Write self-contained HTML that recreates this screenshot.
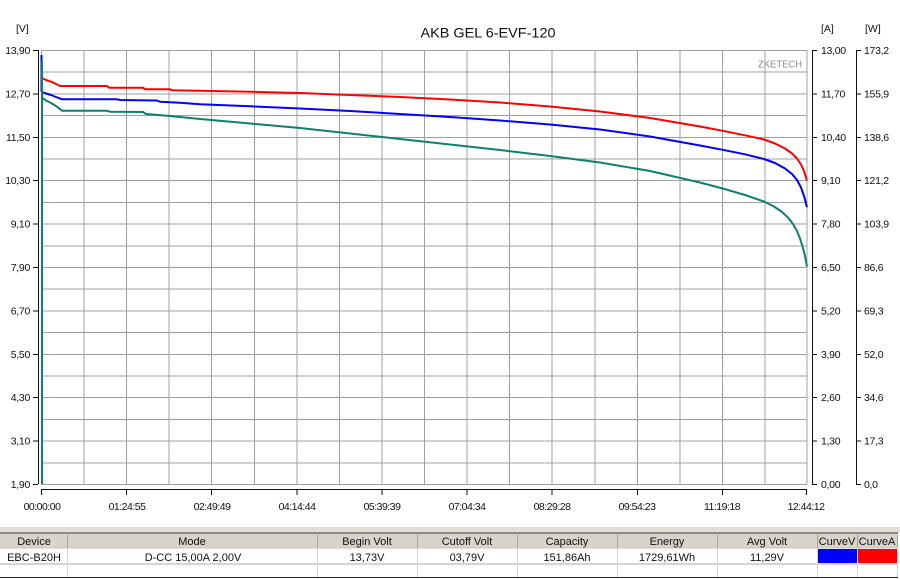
<!DOCTYPE html>
<html><head><meta charset="utf-8"><style>
html,body{margin:0;padding:0;background:#fff;}
svg{display:block;font-family:"Liberation Sans",Arial,sans-serif;}
</style></head><body>
<svg width="900" height="579" viewBox="0 0 900 579" xmlns="http://www.w3.org/2000/svg">
<rect width="900" height="579" fill="#fff"/>
<!-- title -->
<text x="488" y="37.5" font-size="14" text-anchor="middle" textLength="135" lengthAdjust="spacingAndGlyphs" fill="#111">AKB GEL  6-EVF-120</text>
<text x="16" y="32" font-size="10.5" fill="#111">[V]</text>
<text x="821" y="32" font-size="10.5" fill="#111">[A]</text>
<text x="865" y="32" font-size="10.5" fill="#111">[W]</text>

<!-- grid -->
<g stroke="#a0a0a0" stroke-width="1" shape-rendering="crispEdges">
<line x1="41" y1="50.5" x2="807" y2="50.5"/>
<line x1="41" y1="72.2" x2="807" y2="72.2"/>
<line x1="41" y1="93.9" x2="807" y2="93.9"/>
<line x1="41" y1="115.6" x2="807" y2="115.6"/>
<line x1="41" y1="137.3" x2="807" y2="137.3"/>
<line x1="41" y1="159" x2="807" y2="159"/>
<line x1="41" y1="180.7" x2="807" y2="180.7"/>
<line x1="41" y1="202.4" x2="807" y2="202.4"/>
<line x1="41" y1="224.1" x2="807" y2="224.1"/>
<line x1="41" y1="245.8" x2="807" y2="245.8"/>
<line x1="41" y1="267.5" x2="807" y2="267.5"/>
<line x1="41" y1="289.2" x2="807" y2="289.2"/>
<line x1="41" y1="310.9" x2="807" y2="310.9"/>
<line x1="41" y1="332.6" x2="807" y2="332.6"/>
<line x1="41" y1="354.3" x2="807" y2="354.3"/>
<line x1="41" y1="376" x2="807" y2="376"/>
<line x1="41" y1="397.7" x2="807" y2="397.7"/>
<line x1="41" y1="419.4" x2="807" y2="419.4"/>
<line x1="41" y1="441.1" x2="807" y2="441.1"/>
<line x1="41" y1="462.8" x2="807" y2="462.8"/>
<line x1="41" y1="484.5" x2="807" y2="484.5"/>
<line x1="41.5" y1="50" x2="41.5" y2="484"/>
<line x1="84.1" y1="50" x2="84.1" y2="484"/>
<line x1="126.6" y1="50" x2="126.6" y2="484"/>
<line x1="169.2" y1="50" x2="169.2" y2="484"/>
<line x1="211.7" y1="50" x2="211.7" y2="484"/>
<line x1="254.3" y1="50" x2="254.3" y2="484"/>
<line x1="296.9" y1="50" x2="296.9" y2="484"/>
<line x1="339.4" y1="50" x2="339.4" y2="484"/>
<line x1="382" y1="50" x2="382" y2="484"/>
<line x1="424.5" y1="50" x2="424.5" y2="484"/>
<line x1="467.1" y1="50" x2="467.1" y2="484"/>
<line x1="509.7" y1="50" x2="509.7" y2="484"/>
<line x1="552.2" y1="50" x2="552.2" y2="484"/>
<line x1="594.8" y1="50" x2="594.8" y2="484"/>
<line x1="637.3" y1="50" x2="637.3" y2="484"/>
<line x1="679.9" y1="50" x2="679.9" y2="484"/>
<line x1="722.5" y1="50" x2="722.5" y2="484"/>
<line x1="765" y1="50" x2="765" y2="484"/>
<line x1="807" y1="50" x2="807" y2="484"/>
</g>

<text x="802" y="67.5" font-size="10" text-anchor="end" textLength="44" lengthAdjust="spacingAndGlyphs" fill="#8c8c8c">ZKETECH</text>

<!-- axes -->
<g stroke="#111" stroke-width="1" fill="none" shape-rendering="crispEdges">
<line x1="38.5" y1="50" x2="38.5" y2="484"/>
<path d="M33 50.5H38 M33 93.9H38 M33 137.3H38 M33 180.7H38 M33 224.1H38 M33 267.5H38 M33 310.9H38 M33 354.3H38 M33 397.7H38 M33 441.1H38 M33 484.5H38"/>
<line x1="812.5" y1="50" x2="812.5" y2="484"/>
<path d="M812 50.5H817 M812 93.9H817 M812 137.3H817 M812 180.7H817 M812 224.1H817 M812 267.5H817 M812 310.9H817 M812 354.3H817 M812 397.7H817 M812 441.1H817 M812 484.5H817"/>
<line x1="856.5" y1="50" x2="856.5" y2="484"/>
<path d="M856 50.5H861 M856 93.9H861 M856 137.3H861 M856 180.7H861 M856 224.1H861 M856 267.5H861 M856 310.9H861 M856 354.3H861 M856 397.7H861 M856 441.1H861 M856 484.5H861"/>
<line x1="41.5" y1="489.5" x2="807" y2="489.5"/>
<path d="M41.5 489V495 M126.6 489V495 M211.7 489V495 M296.9 489V495 M382 489V495 M467.1 489V495 M552.2 489V495 M637.3 489V495 M722.5 489V495 M806.5 489V495"/>
</g>

<!-- left labels -->
<g font-size="10.5" text-anchor="end" fill="#111" letter-spacing="-0.3">
<text x="30" y="54">13,90</text>
<text x="30" y="97.4">12,70</text>
<text x="30" y="140.8">11,50</text>
<text x="30" y="184.2">10,30</text>
<text x="30" y="227.6">9,10</text>
<text x="30" y="271">7,90</text>
<text x="30" y="314.4">6,70</text>
<text x="30" y="357.8">5,50</text>
<text x="30" y="401.2">4,30</text>
<text x="30" y="444.6">3,10</text>
<text x="30" y="488">1,90</text>
</g>
<g font-size="10.5" fill="#111" letter-spacing="-0.3">
<text x="821" y="54">13,00</text>
<text x="821" y="97.4">11,70</text>
<text x="821" y="140.8">10,40</text>
<text x="821" y="184.2">9,10</text>
<text x="821" y="227.6">7,80</text>
<text x="821" y="271">6,50</text>
<text x="821" y="314.4">5,20</text>
<text x="821" y="357.8">3,90</text>
<text x="821" y="401.2">2,60</text>
<text x="821" y="444.6">1,30</text>
<text x="821" y="488">0,00</text>
<text x="864" y="54">173,2</text>
<text x="864" y="97.4">155,9</text>
<text x="864" y="140.8">138,6</text>
<text x="864" y="184.2">121,2</text>
<text x="864" y="227.6">103,9</text>
<text x="864" y="271">86,6</text>
<text x="864" y="314.4">69,3</text>
<text x="864" y="357.8">52,0</text>
<text x="864" y="401.2">34,6</text>
<text x="864" y="444.6">17,3</text>
<text x="864" y="488">0,0</text>
</g>
<g font-size="10.5" text-anchor="middle" fill="#111" letter-spacing="-0.5">
<text x="42" y="510">00:00:00</text>
<text x="127" y="510">01:24:55</text>
<text x="212" y="510">02:49:49</text>
<text x="297" y="510">04:14:44</text>
<text x="382" y="510">05:39:39</text>
<text x="467" y="510">07:04:34</text>
<text x="552" y="510">08:29:28</text>
<text x="637" y="510">09:54:23</text>
<text x="722" y="510">11:19:18</text>
<text x="806" y="510">12:44:12</text>
</g>

<!-- curves -->
<g fill="none" stroke-width="2" stroke-linejoin="round">
<polyline stroke="#ff0000" points="42,78 46,80 51,81.7 56,84 60,86 107,86 109,87.7 143,87.7 145,89.2 170,89.3 172,90.3 200,90.7 250,91.8 300,93 350,95 400,97 450,99.5 500,102.5 550,106.5 600,111.5 650,118 700,126.5 722.7,130.8 745,135.3 764,139.5 775,143.5 785,148.5 792,153.5 797,158.5 801,164.5 804,171 807,180.7"/>
<polyline stroke="#0000ff" points="41.5,55 41.5,91 42,92 46,93.5 51,95 56,97 62,99.3 117,99.3 120,100 157,100.5 160,101.7 180,102.7 200,104.3 250,106.3 300,108.5 350,111 400,114 450,117 500,120.5 550,124.5 600,129.5 650,136.5 700,145.5 722.7,149.8 745,154.3 764,159 775,163 785,168.5 792,174 797,180 801,187.5 804,196 807,207.3"/>
<polyline stroke="#0e8070" points="42,484 42,61.7 42,97.7 46,100.5 51,103 56,106 62,110.7 107,110.7 110,111.7 143,112 146,114 170,116 200,119 250,123.5 300,128 350,133.5 400,139 450,144.5 500,150 550,156 600,162.5 650,171 700,182.5 722.7,188.5 745,195 764,201.5 774,206.5 782,212 788,217.5 793,224 797,231 800,238.5 803,248 805,256 807,266.7"/>
</g>

<!-- table -->
<rect x="0" y="527" width="900" height="6" fill="#e2ded6"/>
<rect x="0" y="533" width="898" height="15" fill="#d8d4cc"/>
<line x1="0" y1="533" x2="898" y2="533" stroke="#3a3a3a" stroke-width="1"/>
<line x1="0" y1="548" x2="898" y2="548" stroke="#c8c4bc" stroke-width="1"/>
<rect x="0" y="563" width="898" height="2" fill="#d4d4d4"/>
<line x1="0" y1="577.5" x2="898" y2="577.5" stroke="#2a2a2a" stroke-width="1"/>
<g stroke="#a8a4a0" stroke-width="1" shape-rendering="crispEdges">
<path d="M67.5 533V548 M317.5 533V548 M417.5 533V548 M517.5 533V548 M617.5 533V548 M717.5 533V548 M817.5 533V548 M857.5 533V548 M897.5 533V548"/>
</g>
<g stroke="#d6d6d6" stroke-width="1" shape-rendering="crispEdges">
<path d="M67.5 548V577 M317.5 548V577 M417.5 548V577 M517.5 548V577 M617.5 548V577 M717.5 548V577 M817.5 548V577 M857.5 548V577 M897.5 548V577"/>
</g>
<rect x="818" y="549" width="39" height="14" fill="#0000ff"/>
<rect x="858" y="549" width="39" height="14" fill="#ff0000"/>
<g font-size="11" text-anchor="middle" fill="#111">
<text x="34" y="545">Device</text>
<text x="192" y="545">Mode</text>
<text x="367" y="545">Begin Volt</text>
<text x="467" y="545">Cutoff Volt</text>
<text x="567" y="545">Capacity</text>
<text x="667" y="545">Energy</text>
<text x="767" y="545">Avg Volt</text>
<text x="837" y="545">CurveV</text>
<text x="877" y="545">CurveA</text>
<text x="34" y="561">EBC-B20H</text>
<text x="193" y="561">D-CC 15,00A 2,00V</text>
<text x="367" y="561">13,73V</text>
<text x="467" y="561">03,79V</text>
<text x="567" y="561">151,86Ah</text>
<text x="667" y="561">1729,61Wh</text>
<text x="767" y="561">11,29V</text>
</g>
</svg>
</body></html>
